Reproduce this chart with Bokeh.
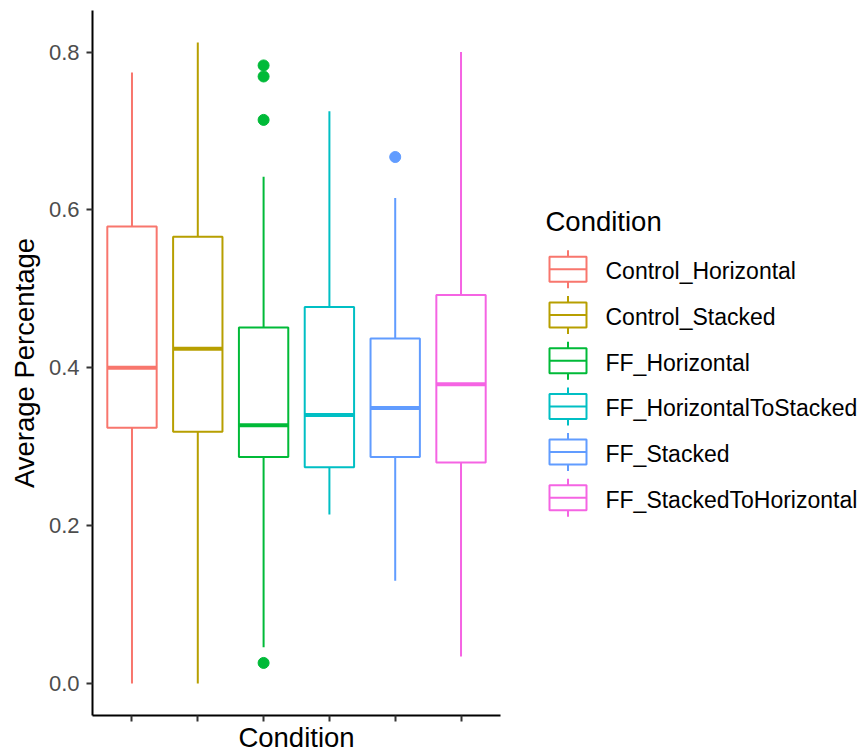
from bokeh.plotting import figure
from bokeh.layouts import row
from bokeh.models import Range1d, FixedTicker, ColumnDataSource, PrintfTickFormatter
from bokeh.core.properties import value
from bokeh.embed import file_html
from bokeh.resources import INLINE

# Box-plot summary per condition
conditions = ["Control_Horizontal", "Control_Stacked", "FF_Horizontal",
              "FF_HorizontalToStacked", "FF_Stacked", "FF_StackedToHorizontal"]
colors = ["#F8766D", "#B79F00", "#00BA38", "#00BFC4", "#619CFF", "#F564E3"]
whisker_low = [0.000, 0.000, 0.046, 0.214, 0.130, 0.034]
q1 = [0.324, 0.319, 0.287, 0.274, 0.287, 0.280]
median = [0.400, 0.424, 0.327, 0.340, 0.349, 0.379]
q3 = [0.579, 0.566, 0.451, 0.477, 0.437, 0.492]
whisker_high = [0.774, 0.812, 0.642, 0.725, 0.615, 0.800]

# Outliers: index of the condition (1-based) and value
outlier_group = [3, 3, 3, 3, 5]
outlier_values = [0.783, 0.769, 0.714, 0.026, 0.667]

y_ticks = [0.0, 0.2, 0.4, 0.6, 0.8]

FONT = "Liberation Sans"
HALF = 0.375  # half box width in category units

xs = list(range(1, len(conditions) + 1))
src = ColumnDataSource(dict(
    x=xs,
    left=[x - HALF for x in xs],
    right=[x + HALF for x in xs],
    lo=whisker_low, q1=q1, med=median, q3=q3, hi=whisker_high,
    color=colors,
))
out_src = ColumnDataSource(dict(
    x=outlier_group,
    y=outlier_values,
    color=[colors[g - 1] for g in outlier_group],
))

p = figure(width=520, height=755,
           x_range=Range1d(0.4, 6.6), y_range=Range1d(-0.0406, 0.8526),
           output_backend="svg", toolbar_location=None,
           min_border_left=92, min_border_right=20,
           min_border_top=10, min_border_bottom=40)
p.frame_align = False
p.outline_line_color = None
p.xgrid.visible = False
p.ygrid.visible = False
p.background_fill_color = "white"

# whiskers
p.segment(x0="x", y0="q3", x1="x", y1="hi", source=src, line_color="color", line_width=2)
p.segment(x0="x", y0="q1", x1="x", y1="lo", source=src, line_color="color", line_width=2)
# boxes
p.quad(left="left", right="right", bottom="q1", top="q3", source=src,
       fill_color="white", line_color="color", line_width=2)
# medians
p.segment(x0="left", y0="med", x1="right", y1="med", source=src,
          line_color="color", line_width=4)
# outliers
p.scatter(x="x", y="y", source=out_src, size=11, fill_color="color", line_color="color")

for ax in (p.xaxis[0], p.yaxis[0]):
    ax.axis_line_color = "black"
    ax.axis_line_width = 2
    ax.major_tick_line_color = "#333333"
    ax.major_tick_line_width = 2
    ax.major_tick_out = 6
    ax.major_tick_in = 0
    ax.minor_tick_line_color = None
    ax.axis_label_text_font = FONT
    ax.axis_label_text_font_size = "27.5px"
    ax.axis_label_text_font_style = "normal"
    ax.axis_label_text_color = "black"
    ax.major_label_text_font = FONT
    ax.major_label_text_color = "#4D4D4D"

# x axis: ticks only, no tick labels
p.xaxis.ticker = FixedTicker(ticks=xs)
p.xaxis.major_label_overrides = {x: "" for x in xs}
p.xaxis.major_label_standoff = 0
p.xaxis.axis_label = "Condition"
p.xaxis.axis_label_standoff = 0

p.yaxis.ticker = FixedTicker(ticks=y_ticks)
p.yaxis.formatter = PrintfTickFormatter(format="%.1f")
p.yaxis.major_label_text_font_size = "22px"
p.yaxis.major_label_standoff = 7
p.yaxis.axis_label = "Average Percentage"
p.yaxis.axis_label_standoff = 6

# Legend panel, drawn in pixel coordinates (y grows downward)
lg = figure(width=345, height=755,
            x_range=Range1d(0, 345), y_range=Range1d(755, 0),
            output_backend="svg", toolbar_location=None, min_border=0)
lg.frame_align = False
lg.axis.visible = False
lg.xgrid.visible = False
lg.ygrid.visible = False
lg.outline_line_color = None

row_step = 45.7
cy = [268.8 + i * row_step for i in range(len(conditions))]
key_x = 47.5
key_src = ColumnDataSource(dict(
    cx=[key_x] * len(conditions),
    l=[key_x - 18.5] * len(conditions),
    r=[key_x + 18.5] * len(conditions),
    top=[c - 12.5 for c in cy],
    bot=[c + 12.5 for c in cy],
    stub_top=[c - 19 for c in cy],
    stub_bot=[c + 19 for c in cy],
    cy=cy,
    ty=[c + 2 for c in cy],
    tx=[85] * len(conditions),
    label=conditions,
    color=colors,
))
lg.segment(x0="cx", y0="stub_top", x1="cx", y1="top", source=key_src, line_color="color", line_width=2)
lg.segment(x0="cx", y0="bot", x1="cx", y1="stub_bot", source=key_src, line_color="color", line_width=2)
lg.quad(left="l", right="r", top="top", bottom="bot", source=key_src,
        fill_color="white", line_color="color", line_width=2)
lg.segment(x0="l", y0="cy", x1="r", y1="cy", source=key_src, line_color="color", line_width=2)
lg.text(x="tx", y="ty", text="label", source=key_src, text_baseline="middle",
        text_font=value(FONT), text_font_size="23px", text_color="black")
lg.text(x=[25], y=[221], text=["Condition"], text_baseline="middle",
        text_font=value(FONT), text_font_size="27.5px", text_color="black")

layout = row(p, lg)
open("out.html", "w").write(file_html(layout, INLINE))
